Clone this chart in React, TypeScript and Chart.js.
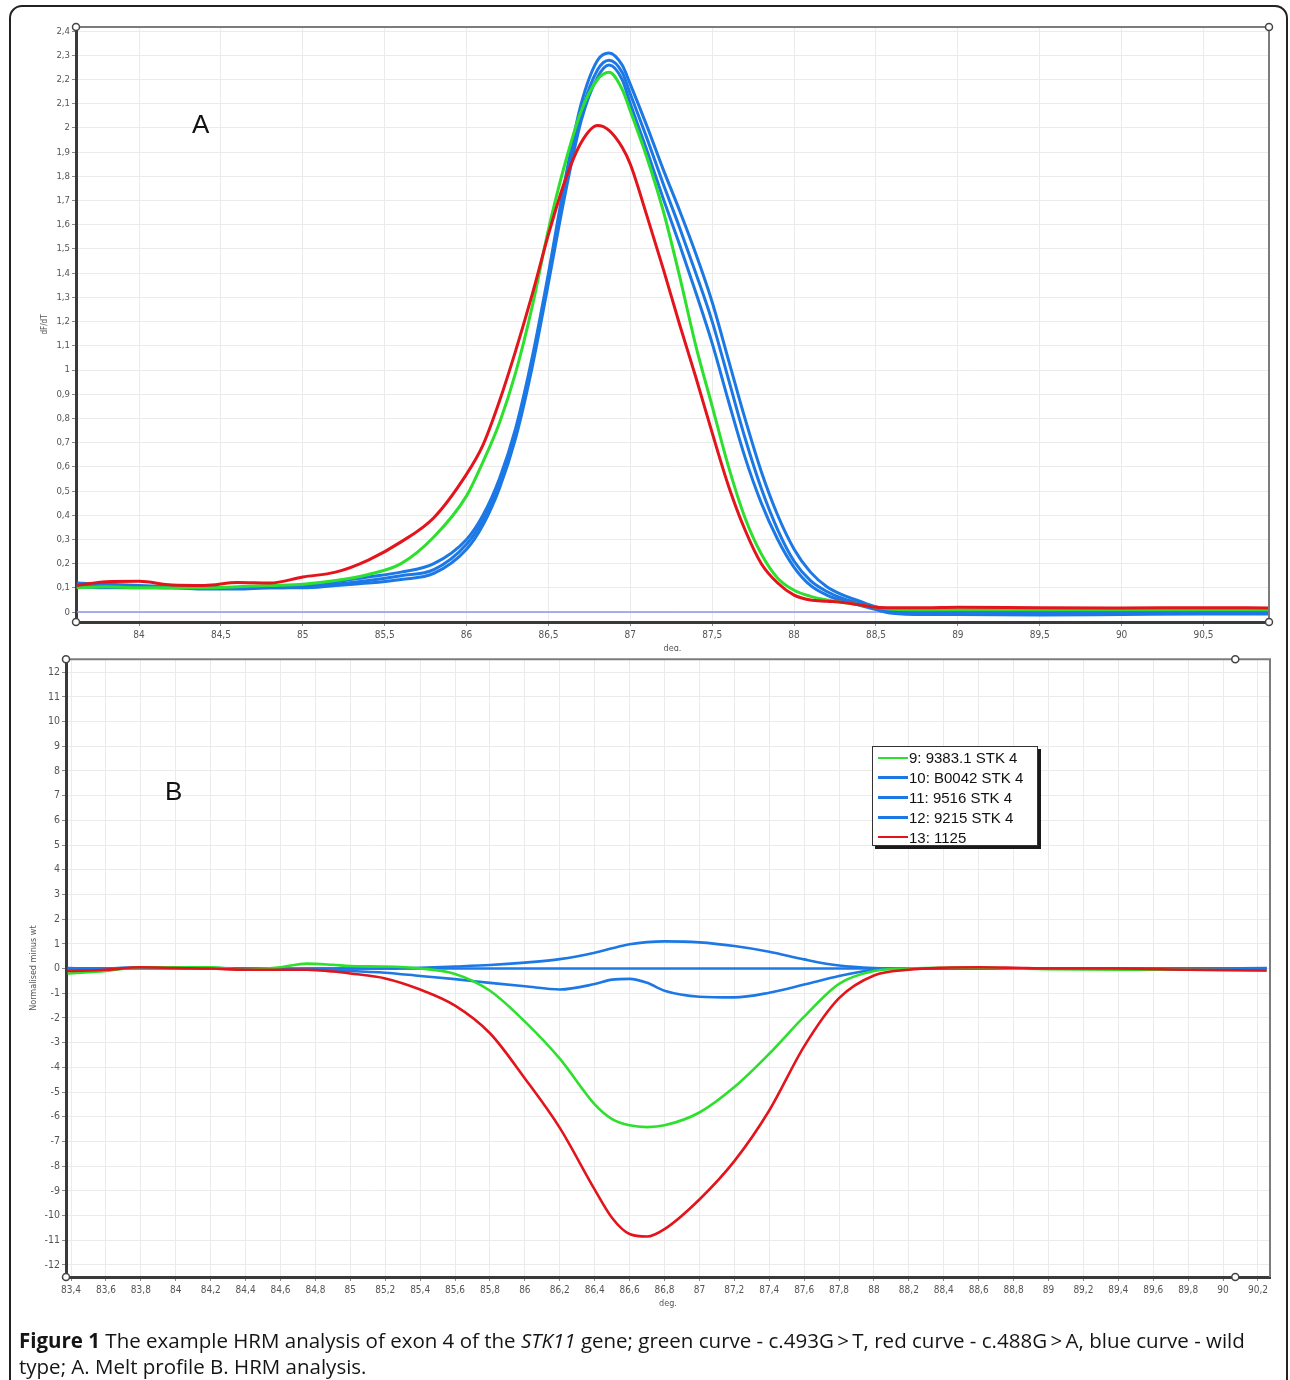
import React, { useEffect, useRef } from 'react';
import { Chart, registerables } from 'chart.js';
Chart.register(...registerables);

// ---------- Panel A : melt profile (dF/dT) ----------
const tempA = [83.62, 83.8, 84.0, 84.2, 84.4, 84.6, 84.8, 85.0, 85.2, 85.4, 85.6, 85.8, 86.0, 86.1, 86.2, 86.3, 86.4, 86.5, 86.6, 86.7, 86.8, 86.87, 86.95, 87.0, 87.1, 87.2, 87.3, 87.4, 87.5, 87.6, 87.7, 87.8, 87.9, 88.0, 88.1, 88.2, 88.3, 88.4, 88.5, 88.6, 88.8, 89.0, 89.5, 90.0, 90.5, 90.9];
const meltA9 = [0.10, 0.105, 0.10, 0.10, 0.10, 0.105, 0.11, 0.115, 0.13, 0.155, 0.20, 0.31, 0.48, 0.62, 0.78, 0.99, 1.26, 1.58, 1.85, 2.07, 2.20, 2.23, 2.16, 2.07, 1.88, 1.66, 1.39, 1.10, 0.85, 0.60, 0.39, 0.24, 0.14, 0.09, 0.065, 0.05, 0.04, 0.03, 0.02, 0.012, 0.01, 0.01, 0.01, 0.01, 0.01, 0.01];
const meltA10 = [0.11, 0.11, 0.105, 0.10, 0.10, 0.10, 0.105, 0.11, 0.125, 0.145, 0.165, 0.20, 0.30, 0.40, 0.55, 0.76, 1.05, 1.40, 1.78, 2.10, 2.28, 2.31, 2.26, 2.18, 2.01, 1.83, 1.66, 1.48, 1.28, 1.04, 0.80, 0.58, 0.40, 0.26, 0.165, 0.105, 0.07, 0.045, 0.022, 0.008, 0.005, 0.005, 0.002, 0.002, 0.004, 0.005];
const meltA11 = [0.12, 0.115, 0.11, 0.105, 0.10, 0.10, 0.10, 0.105, 0.115, 0.13, 0.15, 0.175, 0.28, 0.38, 0.53, 0.74, 1.03, 1.38, 1.75, 2.06, 2.24, 2.28, 2.23, 2.14, 1.96, 1.77, 1.59, 1.40, 1.20, 0.96, 0.72, 0.51, 0.34, 0.21, 0.13, 0.085, 0.055, 0.035, 0.015, 0.002, -0.002, 0.0, -0.004, -0.002, 0.0, 0.0];
const meltA12 = [0.105, 0.10, 0.10, 0.10, 0.095, 0.095, 0.10, 0.10, 0.11, 0.12, 0.135, 0.16, 0.26, 0.36, 0.51, 0.72, 1.01, 1.36, 1.72, 2.03, 2.21, 2.26, 2.20, 2.10, 1.91, 1.71, 1.52, 1.32, 1.11, 0.87, 0.64, 0.45, 0.30, 0.185, 0.11, 0.07, 0.045, 0.028, 0.01, -0.005, -0.01, -0.01, -0.012, -0.01, -0.008, -0.008];
const meltA13 = [0.11, 0.125, 0.127, 0.112, 0.11, 0.122, 0.12, 0.145, 0.165, 0.215, 0.29, 0.39, 0.57, 0.69, 0.87, 1.08, 1.31, 1.56, 1.78, 1.94, 2.01, 1.99, 1.92, 1.85, 1.64, 1.42, 1.19, 0.97, 0.74, 0.52, 0.34, 0.20, 0.12, 0.07, 0.05, 0.045, 0.04, 0.03, 0.02, 0.018, 0.018, 0.02, 0.018, 0.017, 0.018, 0.017];
const baselineA = [0, 0];
const xTicksA = [84, 84.5, 85, 85.5, 86, 86.5, 87, 87.5, 88, 88.5, 89, 89.5, 90, 90.5];
const yTicksA = [0, 0.1, 0.2, 0.3, 0.4, 0.5, 0.6, 0.7, 0.8, 0.9, 1, 1.1, 1.2, 1.3, 1.4, 1.5, 1.6, 1.7, 1.8, 1.9, 2, 2.1, 2.2, 2.3, 2.4];

// ---------- Panel B : HRM difference plot ----------
const tempB = [83.38, 83.6, 83.8, 84.0, 84.2, 84.4, 84.6, 84.75, 84.9, 85.0, 85.2, 85.4, 85.6, 85.8, 86.0, 86.2, 86.4, 86.5, 86.6, 86.7, 86.8, 87.0, 87.2, 87.4, 87.6, 87.8, 88.0, 88.2, 88.4, 88.6, 88.8, 89.0, 89.4, 89.8, 90.25];
const diffB9 = [-0.2, -0.1, 0.05, 0.05, 0.05, -0.05, 0.05, 0.2, 0.15, 0.1, 0.08, 0.0, -0.22, -0.9, -2.15, -3.65, -5.5, -6.1, -6.35, -6.42, -6.35, -5.83, -4.8, -3.45, -1.95, -0.62, -0.1, 0.0, 0.03, 0.03, 0.0, -0.03, -0.05, -0.05, -0.08];
const diffB10 = [0.0, 0.0, 0.05, 0.03, 0.02, 0.0, -0.02, 0.0, 0.0, 0.0, 0.0, 0.03, 0.08, 0.14, 0.24, 0.38, 0.64, 0.82, 0.98, 1.07, 1.10, 1.06, 0.91, 0.68, 0.37, 0.12, 0.02, 0.0, 0.0, 0.0, 0.0, 0.0, 0.0, 0.0, 0.02];
const diffB11 = [0, 0, 0, 0, 0, 0, 0, 0, 0, 0, 0, 0, 0, 0, 0, 0, 0, 0, 0, 0, 0, 0, 0, 0, 0, 0, 0, 0, 0, 0, 0, 0, 0, 0, 0];
const diffB12 = [0.02, 0.0, 0.03, 0.02, 0.0, -0.02, -0.02, -0.05, -0.08, -0.1, -0.17, -0.3, -0.43, -0.58, -0.72, -0.85, -0.63, -0.45, -0.42, -0.58, -0.9, -1.14, -1.17, -0.98, -0.65, -0.3, -0.05, 0.0, 0.0, 0.0, 0.0, 0.0, 0.0, 0.0, 0.0];
const diffB13 = [-0.1, -0.05, 0.05, 0.02, 0.0, -0.05, -0.05, -0.05, -0.12, -0.2, -0.4, -0.85, -1.5, -2.62, -4.45, -6.45, -8.95, -10.1, -10.75, -10.85, -10.55, -9.35, -7.8, -5.75, -3.15, -1.2, -0.28, -0.05, 0.03, 0.05, 0.03, 0.0, 0.0, -0.05, -0.08];
const xTicksB = [83.4, 83.6, 83.8, 84, 84.2, 84.4, 84.6, 84.8, 85, 85.2, 85.4, 85.6, 85.8, 86, 86.2, 86.4, 86.6, 86.8, 87, 87.2, 87.4, 87.6, 87.8, 88, 88.2, 88.4, 88.6, 88.8, 89, 89.2, 89.4, 89.6, 89.8, 90, 90.2];
const yTicksB = [-12, -11, -10, -9, -8, -7, -6, -5, -4, -3, -2, -1, 0, 1, 2, 3, 4, 5, 6, 7, 8, 9, 10, 11, 12];
const cursorB = 90.07;

// ---------- samples ----------
const sampleLabels = ['9: 9383.1 STK 4', '10: B0042 STK 4', '11: 9516 STK 4', '12: 9215 STK 4', '13: 1125'];
const GREEN = '#2ee02e';
const BLUE = '#1c78e4';
const RED = '#e3141b';
const sampleColors = [GREEN, BLUE, BLUE, BLUE, RED];
const drawOrder = [1, 2, 2, 2, 0];

const TICK_FONT = "'DejaVu Sans Condensed', 'Liberation Sans Narrow', 'Liberation Sans', sans-serif";

const comma = (v: number) => String(Math.round(v * 100) / 100).replace('.', ',');
const pts = (xs: number[], ys: number[]) => xs.map((x, i) => ({ x, y: ys[i] }));

const framePlugin = (handleX?: number) => ({
  id: 'frame',
  beforeDraw(chart: any) {
    const { ctx, width, height } = chart;
    ctx.save();
    ctx.fillStyle = '#ffffff';
    ctx.fillRect(0, 0, width, height);
    ctx.restore();
  },
  afterDraw(chart: any) {
    const { ctx, chartArea } = chart;
    const { left, right, top, bottom } = chartArea;
    ctx.save();
    ctx.strokeStyle = '#7c7c7c';
    ctx.lineWidth = 2;
    ctx.beginPath();
    ctx.moveTo(left, top);
    ctx.lineTo(right, top);
    ctx.lineTo(right, bottom);
    ctx.stroke();
    const hx = handleX !== undefined ? chart.scales.x.getPixelForValue(handleX) : right;
    const corners = [[left, top], [hx, top], [hx, bottom], [left, bottom]];
    for (const [cx, cy] of corners) {
      ctx.beginPath();
      ctx.arc(cx, cy, 3.5, 0, Math.PI * 2);
      ctx.fillStyle = '#ffffff';
      ctx.fill();
      ctx.lineWidth = 1.5;
      ctx.strokeStyle = '#444';
      ctx.stroke();
    }
    ctx.restore();
  },
});

function makeScale(cfg: any) {
  return {
    type: 'linear',
    min: cfg.min,
    max: cfg.max,
    afterBuildTicks: (scale: any) => {
      scale.ticks = cfg.ticks.map((v: number) => ({ value: v }));
    },
    afterFit: (scale: any) => {
      if (cfg.axis === 'x') scale.height = cfg.size;
      else scale.width = cfg.size;
    },
    grid: {
      color: '#ebebeb',
      lineWidth: 1,
      tickLength: 4,
      tickColor: '#8a8a8a',
    },
    border: { display: true, color: '#3a3a3a', width: 3 },
    ticks: {
      autoSkip: false,
      maxRotation: 0,
      minRotation: 0,
      padding: cfg.axis === 'x' ? 3 : 2,
      color: '#555',
      font: { family: TICK_FONT, size: cfg.fontSize },
      callback: (v: any) => comma(Number(v)),
    },
    title: {
      display: true,
      text: cfg.title,
      color: '#555',
      font: { family: TICK_FONT, size: cfg.titleSize },
      padding: cfg.titlePadding,
    },
  };
}

function ChartA() {
  const ref = useRef<HTMLCanvasElement>(null);
  useEffect(() => {
    const series = [meltA9, meltA10, meltA11, meltA12, meltA13];
    const datasets: any[] = series.map((ys, i) => ({
      label: sampleLabels[i],
      data: pts(tempA, ys),
      borderColor: sampleColors[i],
      borderWidth: 3,
      pointRadius: 0,
      cubicInterpolationMode: 'monotone',
      fill: false,
      order: drawOrder[i],
    }));
    datasets.push({
      label: 'zero',
      data: pts([tempA[0], 90.9], baselineA),
      borderColor: '#8f8ff5',
      borderWidth: 1.5,
      pointRadius: 0,
      order: 10,
    });
    const chart = new Chart(ref.current as HTMLCanvasElement, {
      type: 'line',
      data: { datasets },
      plugins: [framePlugin()],
      options: {
        animation: false,
        responsive: false,
        devicePixelRatio: 1,
        layout: { padding: { top: 27, right: 21, left: 0, bottom: 0 } },
        plugins: { legend: { display: false }, tooltip: { enabled: false } },
        scales: {
          x: makeScale({ axis: 'x', min: 83.615, max: 90.9, ticks: xTicksA, size: 29, fontSize: 10, title: 'deg.', titleSize: 9, titlePadding: { top: 0, bottom: -3.4 } }),
          y: makeScale({ axis: 'y', min: -0.041, max: 2.417, ticks: yTicksA, size: 76, fontSize: 9.5, title: 'dF/dT', titleSize: 8, titlePadding: { top: 40, bottom: 0 } }),
        },
      } as any,
    });
    return () => chart.destroy();
  }, []);
  return <canvas ref={ref} width={1290} height={651} style={{ position: 'absolute', left: 0, top: 0 }} />;
}

function ChartB() {
  const ref = useRef<HTMLCanvasElement>(null);
  useEffect(() => {
    const series = [diffB9, diffB10, diffB11, diffB12, diffB13];
    const datasets: any[] = series.map((ys, i) => ({
      label: sampleLabels[i],
      data: pts(tempB, ys),
      borderColor: sampleColors[i],
      borderWidth: 2.6,
      pointRadius: 0,
      cubicInterpolationMode: 'monotone',
      fill: false,
      order: drawOrder[i],
    }));
    const chart = new Chart(ref.current as HTMLCanvasElement, {
      type: 'line',
      data: { datasets },
      plugins: [framePlugin(cursorB)],
      options: {
        animation: false,
        responsive: false,
        devicePixelRatio: 1,
        layout: { padding: { top: 7, right: 20, left: 0, bottom: 0 } },
        plugins: { legend: { display: false }, tooltip: { enabled: false } },
        scales: {
          x: makeScale({ axis: 'x', min: 83.371, max: 90.269, ticks: xTicksB, size: 43, fontSize: 10, title: 'deg.', titleSize: 9, titlePadding: { top: 0, bottom: 10.6 } }),
          y: makeScale({ axis: 'y', min: -12.49, max: 12.52, ticks: yTicksB, size: 66, fontSize: 10.5, title: 'Normalised minus wt', titleSize: 9, titlePadding: { top: 28, bottom: 0 } }),
        },
      } as any,
    });
    return () => chart.destroy();
  }, []);
  return <canvas ref={ref} width={1290} height={669} style={{ position: 'absolute', left: 0, top: 651 }} />;
}

function LegendB() {
  return (
    <div
      style={{
        position: 'absolute',
        left: 872,
        top: 746,
        width: 166,
        height: 100,
        border: '1px solid #333',
        boxShadow: '3px 3px 0 #1a1a1a',
        background: '#fff',
        boxSizing: 'border-box',
        paddingTop: 1,
      }}
    >
      {sampleLabels.map((lab, i) => (
        <div key={lab} style={{ display: 'flex', alignItems: 'center', height: 19.8 }}>
          <span style={{ display: 'inline-block', width: 30, height: 2.5, background: sampleColors[i], marginLeft: 5, marginRight: 1 }} />
          <span style={{ fontFamily: "'Liberation Sans', Arial, sans-serif", fontSize: 15, color: '#111', whiteSpace: 'nowrap', lineHeight: '19px' }}>{lab}</span>
        </div>
      ))}
    </div>
  );
}

export default function App() {
  const panelLabel: React.CSSProperties = {
    position: 'absolute',
    fontFamily: "'Liberation Sans', Arial, sans-serif",
    fontSize: 26,
    color: '#111',
    lineHeight: '30px',
  };
  return (
    <div style={{ position: 'absolute', left: 0, top: 0, width: 1290, height: 1380, overflow: 'hidden', background: '#fff' }}>
      <ChartA />
      <ChartB />
      <div
        style={{
          position: 'absolute',
          left: 9,
          top: 5,
          width: 1279,
          height: 1420,
          border: '2px solid #222',
          borderRadius: 13,
          boxSizing: 'border-box',
          pointerEvents: 'none',
        }}
      />
      <div style={{ ...panelLabel, left: 192, top: 109 }}>A</div>
      <div style={{ ...panelLabel, left: 165, top: 776 }}>B</div>
      <LegendB />
      <div
        style={{
          position: 'absolute',
          left: 19,
          top: 1327,
          fontFamily: "'Open Sans', 'Noto Sans', sans-serif",
          fontSize: 20.5,
          lineHeight: '26px',
          color: '#151515',
          whiteSpace: 'nowrap',
        }}
      >
        <b>Figure 1</b> The example HRM analysis of exon 4 of the <i>STK11</i> gene; green curve - c.493G&#8201;&gt;&#8201;T, red curve - c.488G&#8201;&gt;&#8201;A, blue curve - wild
        <br />
        type; A. Melt profile B. HRM analysis.
      </div>
    </div>
  );
}
